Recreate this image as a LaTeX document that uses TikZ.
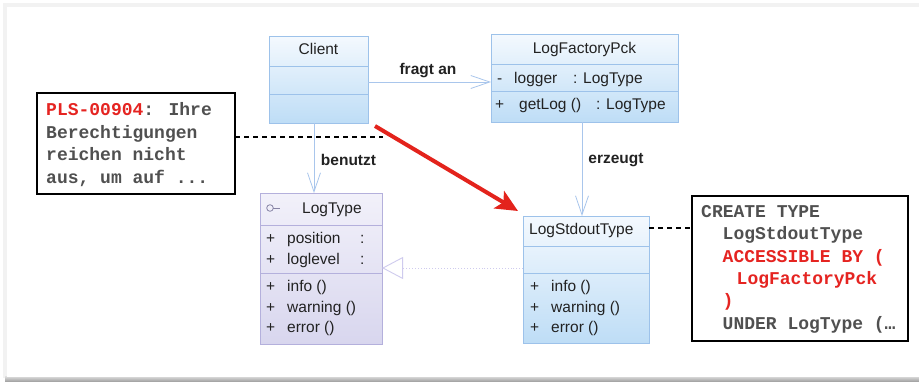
\documentclass[tikz,border=0pt]{standalone}
\usepackage{fontspec}
\setmainfont{Liberation Sans}
\newfontfamily\codefont{Liberation Mono}
\usetikzlibrary{arrows.meta,calc}

\definecolor{clsTop}{HTML}{F4F9FE}
\definecolor{clsBot}{HTML}{BEDDF6}
\definecolor{clsLine}{HTML}{9DC2EA}
\definecolor{ifTop}{HTML}{F2F1FA}
\definecolor{ifBot}{HTML}{D8D6EE}
\definecolor{ifLine}{HTML}{B4B0DC}
\definecolor{linkBlue}{HTML}{A9C6EC}
\definecolor{realLine}{HTML}{CFCBEE}
\definecolor{umlText}{HTML}{222222}
\definecolor{codeGray}{HTML}{505050}
\definecolor{codeRed}{HTML}{E52421}
\definecolor{pointRed}{HTML}{E3231C}

\newcommand\umlsize{\fontsize{15.5}{18}\selectfont}
\newcommand\codesize{\codefont\bfseries\fontsize{18}{22}\selectfont}

\begin{document}
\begin{tikzpicture}[x=1pt,y=-1pt,
  classbox/.style={draw=clsLine, line width=0.8pt, top color=clsTop, bottom color=clsBot,
    minimum width=#1, inner sep=0pt, outer sep=0pt},
  ifbox/.style={draw=ifLine, line width=0.8pt, top color=ifTop, bottom color=ifBot,
    minimum width=#1, inner sep=0pt, outer sep=0pt},
  notebox/.style={draw=black, line width=2.8pt, fill=white, inner sep=0pt, outer sep=0pt},
  umltxt/.style={anchor=base west, inner sep=0pt, text=umlText, font=\umlsize},
  umlmid/.style={anchor=base, inner sep=0pt, text=umlText, font=\umlsize},
  linklbl/.style={anchor=base, inner sep=0pt, text=umlText, font=\umlsize\bfseries},
  codetxt/.style={anchor=base west, inner sep=0pt, text=codeGray, font=\codesize},
  assoc/.style={draw=linkBlue, line width=0.8pt, -{Straight Barb[length=19pt,width=13pt,line width=0.8pt]}},
  realize/.style={draw=realLine, line width=0.9pt, dotted,
    -{Triangle[open,length=21pt,width=22pt,line width=0.9pt]}},
  notelink/.style={draw=black, line width=1.4pt, dash pattern=on 5pt off 4pt},
  pointer/.style={draw=pointRed, line width=4pt, -{Stealth[length=22pt,width=20pt,inset=5pt]}}
]
\useasboundingbox (0,0) rectangle (919,381);

% sheet with its thin frame and bottom shadow
\fill[black!5] (3,3) rectangle (919,378);
\shade[top color=black!12, bottom color=black!35] (5,376) rectangle (919,381);
\fill[white] (7,7) rectangle (919,377);

% ---------- classes ----------
\node[classbox=99pt, minimum height=87pt] (client) at (318.5,79.5) {};
\draw[clsLine] (client.west |- 0,66) -- (client.east |- 0,66);
\draw[clsLine] (client.west |- 0,94) -- (client.east |- 0,94);
\node[umlmid] (clientName) at (318.5,54) {Client};

\node[classbox=187pt, minimum height=88pt] (factory) at (584.5,78) {};
\draw[clsLine] (factory.west |- 0,64) -- (factory.east |- 0,64);
\draw[clsLine] (factory.west |- 0,91) -- (factory.east |- 0,91);
\node[umlmid] (factoryName) at (584.5,53) {LogFactoryPck};
\node[umltxt] (factoryVisA) at (497,83) {-};
\node[umltxt] (factoryAttr) at (514,83) {logger};
\node[umltxt] (factoryAttrT) at (573,83) {: LogType};
\node[umltxt] (factoryVisM) at (495,109) {+};
\node[umltxt] (factoryOp) at (519,109) {getLog ()};
\node[umltxt] (factoryOpT) at (596,109) {: LogType};

\node[ifbox=122pt, minimum height=151pt] (logtype) at (321,268.5) {};
\draw[ifLine] (logtype.west |- 0,225) -- (logtype.east |- 0,225);
\draw[ifLine] (logtype.west |- 0,273) -- (logtype.east |- 0,273);
\draw[ifLine!75!black, line width=0.8pt] (270,208) circle (3.3pt);
\draw[ifLine!75!black, line width=0.8pt] (273.3,208) -- (280,208);
\node[umltxt] (logtypeName) at (302,213) {LogType};
\node[umltxt] (ltVis1) at (266,243) {+};
\node[umltxt] (ltAttr1) at (287,243) {position};
\node[umltxt] (ltCol1) at (360,243) {:};
\node[umltxt] (ltVis2) at (266,264) {+};
\node[umltxt] (ltAttr2) at (287,264) {loglevel};
\node[umltxt] (ltCol2) at (360,264) {:};
\node[umltxt] (ltVis3) at (266,291) {+};
\node[umltxt] (ltOp1) at (287,291) {info ()};
\node[umltxt] (ltVis4) at (266,312) {+};
\node[umltxt] (ltOp2) at (287,312) {warning ()};
\node[umltxt] (ltVis5) at (266,332) {+};
\node[umltxt] (ltOp3) at (287,332) {error ()};

\node[classbox=126pt, minimum height=127pt] (stdout) at (586,279.5) {};
\draw[clsLine] (stdout.west |- 0,246) -- (stdout.east |- 0,246);
\draw[clsLine] (stdout.west |- 0,273) -- (stdout.east |- 0,273);
\node[umltxt] (stdoutName) at (529,234) {LogStdoutType};
\node[umltxt] (soVis1) at (530,291) {+};
\node[umltxt] (soOp1) at (551,291) {info ()};
\node[umltxt] (soVis2) at (530,312) {+};
\node[umltxt] (soOp2) at (551,312) {warning ()};
\node[umltxt] (soVis3) at (530,332) {+};
\node[umltxt] (soOp3) at (551,332) {error ()};

% ---------- relations ----------
\draw[assoc] ([yshift=-2.5pt]client.east) -- ([yshift=-2.5pt]client.east -| factory.west);
\node[linklbl] (lblAsk) at (428,74) {fragt an};

\draw[assoc] ([xshift=-4.5pt]client.south) -- ([xshift=-4.5pt]client.south |- logtype.north);
\node[linklbl] (lblUse) at (348.5,165) {benutzt};

\draw[assoc] ([xshift=-2.5pt]factory.south) -- ([xshift=-2.5pt]factory.south |- stdout.north);
\node[linklbl] (lblMake) at (616,163) {erzeugt};

\draw[realize] ([yshift=11.5pt]stdout.west) -- ([yshift=11.5pt]stdout.west -| logtype.east);

% ---------- notes ----------
\node[notebox, minimum width=198pt, minimum height=101pt] (errNote) at (136,143.5) {};
\node[codetxt] (err1) at (46,115) {\textcolor{codeRed}{PLS-00904}: Ihre};
\node[codetxt] (err2) at (46,138) {Berechtigungen};
\node[codetxt] (err3) at (46,160.5) {reichen nicht};
\node[codetxt] (err4) at (46,183) {aus, um auf ...};

\node[notebox, minimum width=216pt, minimum height=145pt] (ddlNote) at (800,268.5) {};
\node[codetxt] (ddl1) at (701,217) {CREATE TYPE};
\node[codetxt] (ddl2) at (722.5,239.5) {LogStdoutType};
\node[codetxt, text=codeRed] (ddl3) at (722.5,262) {ACCESSIBLE BY (};
\node[codetxt, text=codeRed] (ddl4) at (736.5,284.5) {LogFactoryPck};
\node[codetxt, text=codeRed] (ddl5) at (722.5,306.5) {)};
\node[codetxt] (ddl6) at (722.5,329) {UNDER LogType (…};

\coordinate (errEnd) at (383,137);
\draw[notelink] ([yshift=6.5pt]errNote.east) -- (errEnd);
\draw[notelink] (stdout.east |- 0,228) -- (ddlNote.west |- 0,228);

% ---------- red pointer ----------
\coordinate (ptrStart) at (375,126);
\coordinate (ptrEnd) at (518,211);
\draw[pointer] (ptrStart) -- (ptrEnd);
\end{tikzpicture}
\end{document}
